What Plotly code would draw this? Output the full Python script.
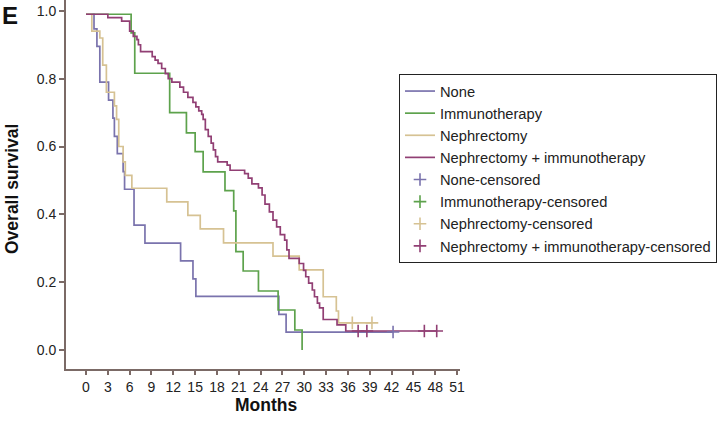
import plotly.graph_objects as go

# ---------------- data ----------------
none_t = [0, 1.1, 1.5, 1.9, 3.1, 3.7, 3.9, 4.3, 5.1, 5.3, 6.6, 8.1, 13.0, 14.7, 15.1, 26.5, 27.5, 42.2]
none_s = [0.99, 0.947, 0.895, 0.79, 0.737, 0.684, 0.63, 0.579, 0.526, 0.474, 0.368, 0.315, 0.263, 0.21, 0.158, 0.105, 0.053, 0.053]

immu_t = [0, 6.2, 6.7, 11.5, 13.8, 15.0, 16.1, 19.1, 20.3, 20.6, 21.6, 23.7, 26.4, 28.7, 29.7]
immu_s = [0.99, 0.935, 0.816, 0.70, 0.64, 0.585, 0.525, 0.47, 0.41, 0.29, 0.233, 0.174, 0.118, 0.059, 0.0]

neph_t = [0, 0.8, 1.9, 2.3, 2.8, 3.9, 4.2, 4.5, 5.1, 5.4, 6.3, 11.1, 14.0, 15.7, 18.9, 25.7, 29.3, 32.6, 34.4, 34.7, 39.3]
neph_s = [0.99, 0.94, 0.92, 0.84, 0.76, 0.72, 0.68, 0.60, 0.555, 0.515, 0.477, 0.437, 0.397, 0.357, 0.316, 0.277, 0.236, 0.157, 0.115, 0.08, 0.08]

ni_t = [0, 3.0, 4.9, 6.0, 6.5, 7.0, 7.2, 7.5, 9.1, 9.5, 9.9, 10.4, 10.9, 11.3, 11.8, 12.9, 13.4, 14.0,
        14.7, 15.1, 15.5, 15.9, 16.1, 16.4, 16.8, 17.2, 17.5, 17.8, 18.1, 19.4, 19.8, 21.8, 22.3, 22.8,
        23.7, 24.2, 24.6, 25.2, 25.7, 26.2, 26.7, 27.3, 27.6, 27.9, 29.3, 29.9, 30.2, 30.6, 31.1, 31.4,
        31.8, 32.1, 32.6, 34.5, 35.7, 48.2]
ni_s = [0.99, 0.98, 0.97, 0.94, 0.925, 0.915, 0.90, 0.88, 0.865, 0.855, 0.845, 0.83, 0.815, 0.80, 0.79,
        0.775, 0.76, 0.745, 0.73, 0.717, 0.705, 0.695, 0.68, 0.65, 0.63, 0.61, 0.59, 0.57, 0.555, 0.545,
        0.53, 0.52, 0.507, 0.49, 0.478, 0.457, 0.43, 0.407, 0.383, 0.363, 0.34, 0.324, 0.295, 0.27, 0.255,
        0.235, 0.216, 0.197, 0.177, 0.157, 0.138, 0.124, 0.09, 0.074, 0.056, 0.056]

none_cens_t = [42.2]
none_cens_s = [0.053]
immu_cens_t = [None]
immu_cens_s = [None]
neph_cens_t = [36.6, 39.3]
neph_cens_s = [0.08, 0.08]
ni_cens_t = [37.4, 38.6, 46.5, 48.2]
ni_cens_s = [0.056, 0.056, 0.056, 0.056]

x_ticks = list(range(0, 52, 3))
y_ticks = [0.0, 0.2, 0.4, 0.6, 0.8, 1.0]
y_tick_text = ["0.0", "0.2", "0.4", "0.6", "0.8", "1.0"]

names = ["None", "Immunotherapy", "Nephrectomy", "Nephrectomy + immunotherapy"]
colors = ["#7a73ad", "#5da24c", "#d6c293", "#913f74"]

curves = [(none_t, none_s), (immu_t, immu_s), (neph_t, neph_s), (ni_t, ni_s)]
cens = [(none_cens_t, none_cens_s), (immu_cens_t, immu_cens_s),
        (neph_cens_t, neph_cens_s), (ni_cens_t, ni_cens_s)]

fig = go.Figure()
for (t, s), name, c in zip(curves, names, colors):
    fig.add_trace(go.Scatter(x=t, y=s, mode="lines", line=dict(color=c, width=1.7, shape="hv"),
                             name=name, showlegend=True))
for (t, s), name, c in zip(cens, names, colors):
    fig.add_trace(go.Scatter(x=t, y=s, mode="markers",
                             marker=dict(symbol="cross-thin", size=9, color=c,
                                         line=dict(color=c, width=1.6)),
                             name=name + "-censored", showlegend=True))

axis_col = "#7b6a66"
fig.update_layout(
    width=717, height=423,
    margin=dict(l=66, r=257, t=0, b=54, autoexpand=False),
    paper_bgcolor="white", plot_bgcolor="white",
    font=dict(family="Liberation Sans, Arial, sans-serif", size=14, color="#222"),
    showlegend=True,
    legend=dict(x=(399 - 66) / 394, y=(369 - 74) / 369, xanchor="left", yanchor="top",
                bordercolor="#222", borderwidth=1, bgcolor="white",
                font=dict(size=14.7, color="#222"), tracegroupgap=0),
    xaxis=dict(range=[-2.75, 51.4], tickvals=x_ticks, showline=True, linecolor=axis_col, linewidth=2,
               ticks="outside", ticklen=4, tickwidth=2, tickcolor=axis_col, showgrid=False, zeroline=False,
               automargin=False),
    yaxis=dict(range=[-0.056, 1.032], tickvals=y_ticks, ticktext=y_tick_text, showline=True,
               linecolor=axis_col, linewidth=2, ticks="outside", ticklen=5, tickwidth=2, tickcolor=axis_col,
               showgrid=False, zeroline=False, automargin=False),
    annotations=[
        dict(text="<b>E</b>", xref="paper", yref="paper", x=-66 / 394, y=1.0,
             xanchor="left", yanchor="top", showarrow=False, font=dict(size=24, color="#111")),
        dict(text="<b>Months</b>", xref="paper", yref="paper", x=(266 - 66) / 394, y=(369 - 405) / 369,
             xanchor="center", yanchor="middle", showarrow=False, font=dict(size=17.5, color="#111")),
        dict(text="<b>Overall survival</b>", xref="paper", yref="paper", x=(12 - 66) / 394,
             y=(369 - 189) / 369, xanchor="center", yanchor="middle", textangle=-90, showarrow=False,
             font=dict(size=17.5, color="#111")),
    ],
)

fig.write_html("out.html", config={"displayModeBar": False},
               post_script="document.body.style.margin='0';document.body.style.overflow='hidden';")
